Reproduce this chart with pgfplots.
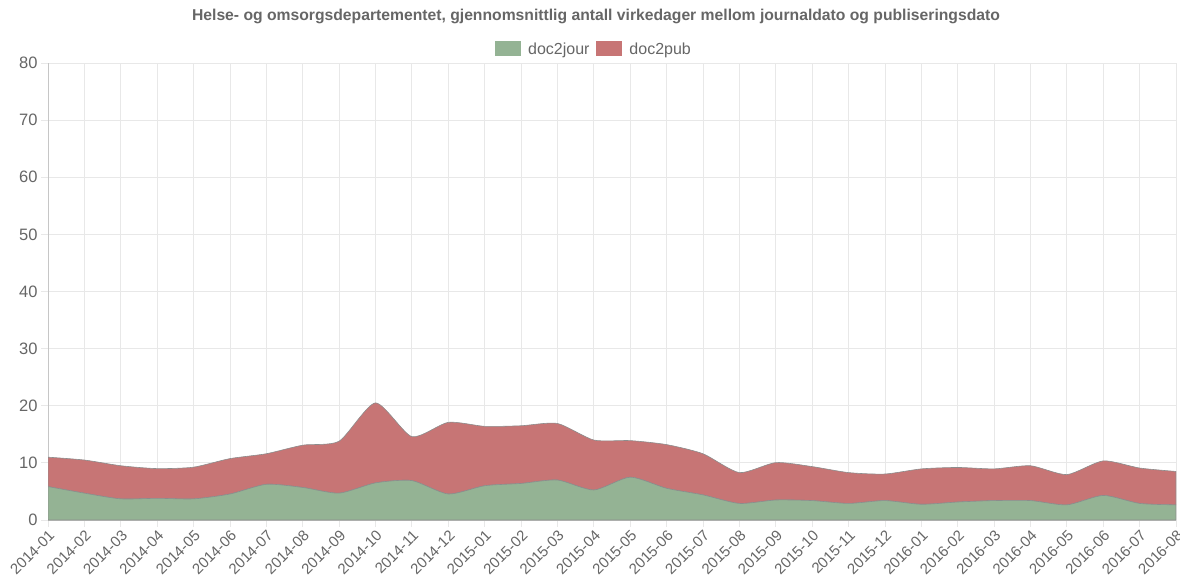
\documentclass[border=0pt]{standalone}
\usepackage{fontspec}
\setmainfont{Liberation Sans}
\usepackage{pgfplots}
\pgfplotsset{compat=1.18}
\usetikzlibrary{calc}
\definecolor{jour}{RGB}{148,179,148}
\definecolor{pub}{RGB}{199,117,117}
\definecolor{txt}{RGB}{102,102,102}
\definecolor{gridc}{RGB}{232,232,232}
\definecolor{edge}{RGB}{140,140,140}

\begin{document}
\begin{tikzpicture}
\begin{axis}[
  name=ax,
  scale only axis, width=1128pt, height=457pt,
  xmin=0, xmax=31, ymin=0, ymax=80,
  stack plots=y,
  axis lines*=left,
  axis line style={draw=gray!45, line width=0.8pt},
  grid=major, grid style={gridc, line width=0.8pt},
  tick align=outside, major tick length=7pt,
  tick style={gridc, line width=0.8pt},
  xtick={0,...,31},
  xticklabels={2014-01,2014-02,2014-03,2014-04,2014-05,2014-06,2014-07,2014-08,2014-09,2014-10,2014-11,2014-12,
    2015-01,2015-02,2015-03,2015-04,2015-05,2015-06,2015-07,2015-08,2015-09,2015-10,2015-11,2015-12,
    2016-01,2016-02,2016-03,2016-04,2016-05,2016-06,2016-07,2016-08},
  x tick label style={rotate=45, anchor=north east, inner sep=1.5pt, font=\fontsize{15}{17}\selectfont, text=txt},
  ytick={0,10,...,80},
  y tick label style={font=\fontsize{16.5}{18}\selectfont, text=txt},
  /pgf/number format/assume math mode=true,
  title={Helse- og omsorgsdepartementet, gjennomsnittlig antall virkedager mellom journaldato og publiseringsdato},
  title style={at={(0.5,1)}, anchor=center, xshift=-16pt, yshift=41pt, font=\bfseries\fontsize{15.7}{18}\selectfont, text=txt},
  legend columns=2,
  legend style={at={(0.5,1)}, anchor=center, xshift=-18pt, yshift=14pt, draw=none, fill=none,
    font=\fontsize{16}{18}\selectfont, text=txt,
    /tikz/every odd column/.append style={column sep=5pt},
    /tikz/every even column/.append style={column sep=5pt}},
  legend image code/.code={\fill[#1, draw=none] (0pt,-7.5pt) rectangle (26pt,7.5pt);},
]
\addplot[fill=jour, draw=edge, line width=0.6pt, smooth, tension=0.4] coordinates {
(0,5.85) (1,4.7) (2,3.7) (3,3.8) (4,3.7) (5,4.55) (6,6.25) (7,5.7) (8,4.7) (9,6.5)
(10,6.9) (11,4.55) (12,6.0) (13,6.4) (14,7.0) (15,5.25) (16,7.5) (17,5.55) (18,4.4) (19,2.9)
(20,3.5) (21,3.4) (22,2.9) (23,3.4) (24,2.75) (25,3.15) (26,3.4) (27,3.4) (28,2.65) (29,4.3)
(30,2.9) (31,2.65)
} \closedcycle;
\addlegendentry{doc2jour}
\addplot[fill=pub, draw=edge, line width=0.6pt, smooth, tension=0.4] coordinates {
(0,5.15) (1,5.8) (2,5.8) (3,5.2) (4,5.55) (5,6.2) (6,5.35) (7,7.4) (8,9.1) (9,14.0)
(10,7.7) (11,12.55) (12,10.4) (13,10.1) (14,9.9) (15,8.75) (16,6.4) (17,7.65) (18,7.2) (19,5.4)
(20,6.55) (21,5.95) (22,5.4) (23,4.65) (24,6.2) (25,6.05) (26,5.55) (27,6.1) (28,5.3) (29,6.05)
(30,6.2) (31,5.85)
} \closedcycle;
\addlegendentry{doc2pub}
\end{axis}
\pgfresetboundingbox
\path[use as bounding box] ($(ax.south west)+(-48pt,-57pt)$) rectangle ($(ax.north east)+(4pt,63pt)$);
\end{tikzpicture}
\end{document}
